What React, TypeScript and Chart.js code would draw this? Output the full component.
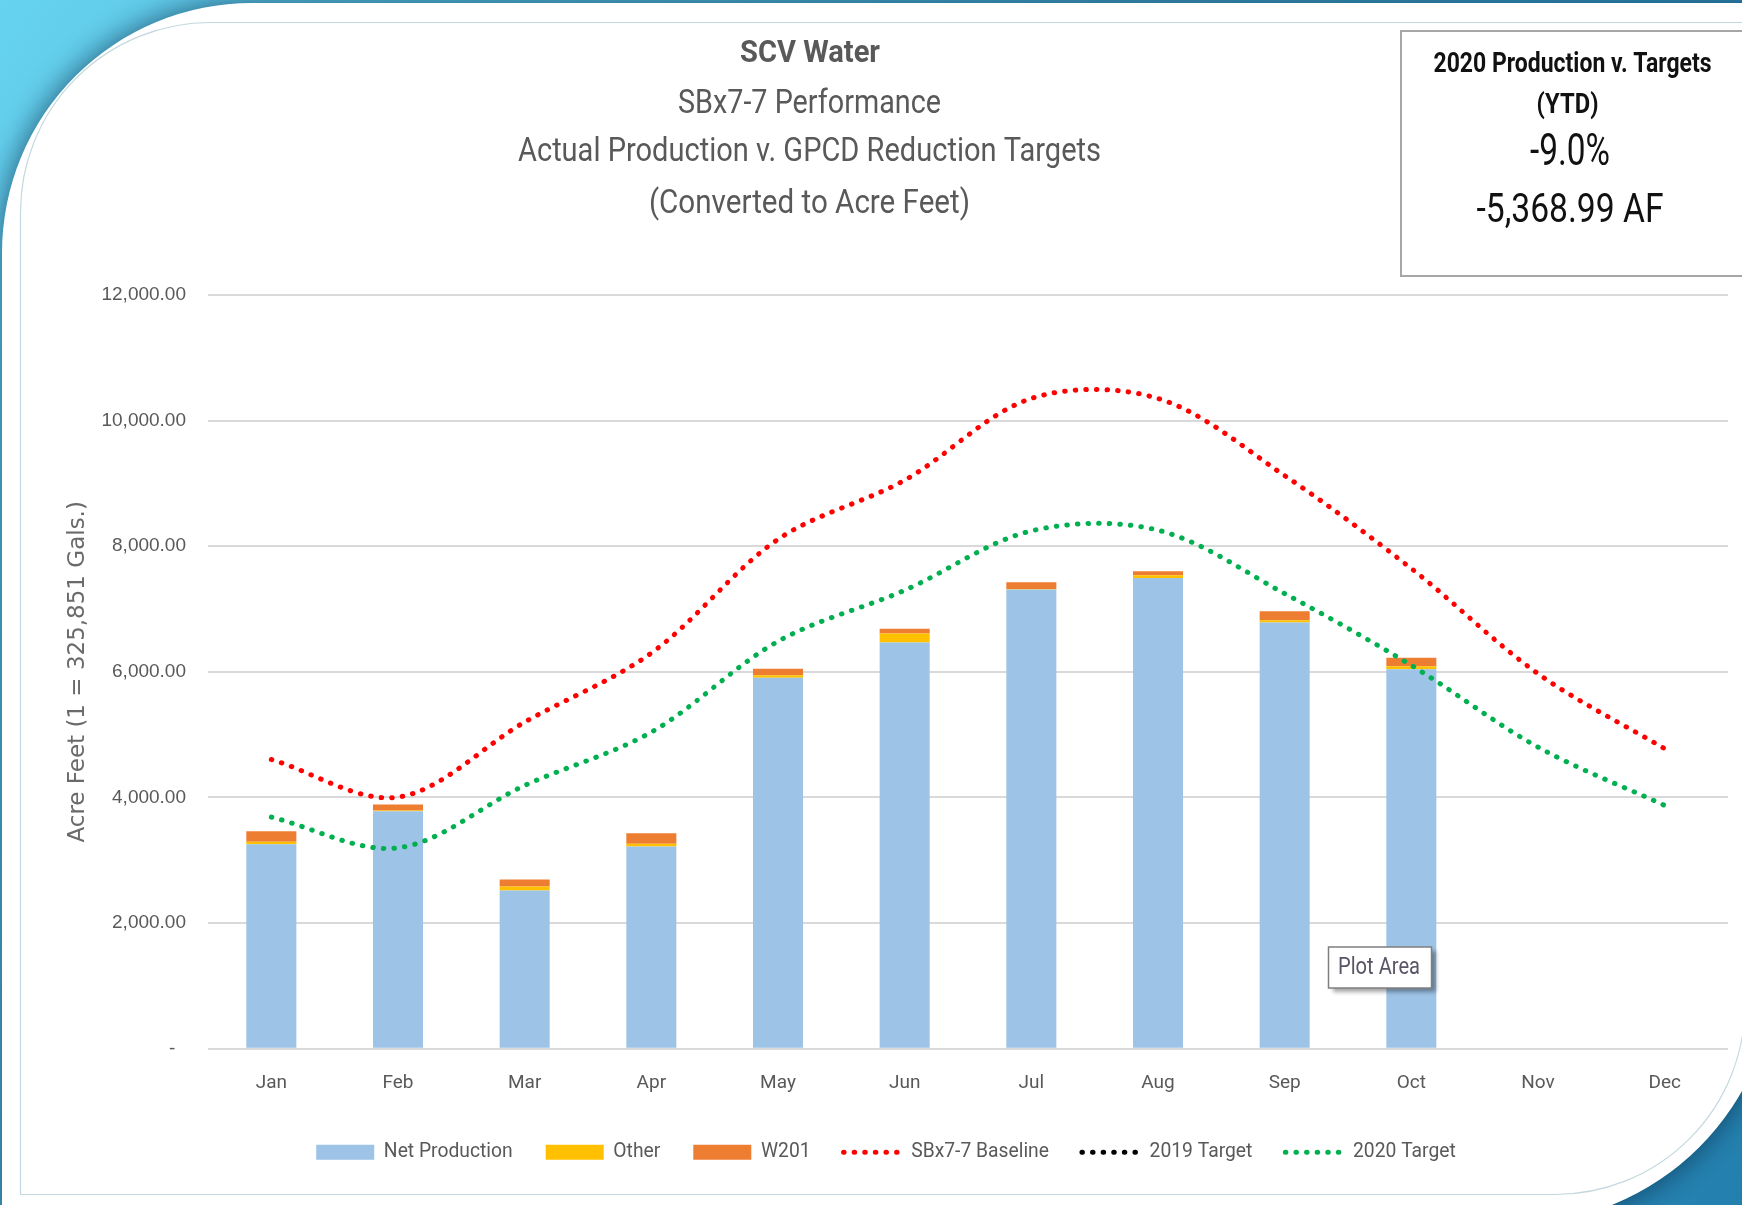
import React, { useEffect, useRef } from 'react';
import { Chart, registerables } from 'chart.js';

Chart.register(...registerables);

// ---------- data ----------
const months = ['Jan', 'Feb', 'Mar', 'Apr', 'May', 'Jun', 'Jul', 'Aug', 'Sep', 'Oct', 'Nov', 'Dec'];
const netProduction = [3256, 3782, 2518, 3219, 5908, 6468, 7310, 7495, 6784, 6040, null, null];
const otherProduction = [37, 10, 64, 43, 36, 141, 10, 43, 37, 48, null, null];
const w201Production = [171, 96, 111, 170, 105, 79, 106, 63, 143, 138, null, null];
const sbx77Baseline = [4605, 4005, 5200, 6300, 8110, 9052, 10353, 10353, 9124, 7645, 5971, 4776];
const target2019 = [null, null, null, null, null, null, null, null, null, null, null, null];
const target2020 = [3687, 3198, 4191, 5041, 6486, 7299, 8244, 8255, 7246, 6104, 4802, 3873];
const yAxisMax = 12000;
const yAxisStep = 2000;

const titleLines = ['SCV Water', 'SBx7-7 Performance', 'Actual Production v. GPCD Reduction Targets', '(Converted to Acre Feet)'];
const boxLines = ['2020 Production v. Targets', '(YTD)', '-9.0%', '-5,368.99 AF'];
const yAxisTitle = 'Acre Feet (1 = 325,851 Gals.)';
const tooltipText = 'Plot Area';

// ---------- styling ----------
const W = 1742;
const H = 1205;
const NARROW = "'Liberation Sans Narrow', 'Arial Narrow', Roboto, sans-serif";
const ARIAL = "'Liberation Sans', Arial, sans-serif";
const WIDE = "'DejaVu Sans', Verdana, sans-serif";

function fitText(ctx: CanvasRenderingContext2D, text: string, cx: number, cy: number, weight: string, size: number, family: string, targetW: number, color: string) {
  ctx.save();
  ctx.font = `${weight} ${size}px ${family}`;
  const w = ctx.measureText(text).width || 1;
  const s = targetW / w;
  ctx.translate(cx, cy);
  ctx.scale(s, 1);
  ctx.textAlign = 'center';
  ctx.textBaseline = 'middle';
  ctx.fillStyle = color;
  ctx.fillText(text, 0, 0);
  ctx.restore();
}

const decorPlugin = {
  id: 'decor',
  beforeDraw(chart: any) {
    const ctx: CanvasRenderingContext2D = chart.ctx;
    ctx.save();
    // blue background
    const g = ctx.createLinearGradient(0, 0, W, H);
    g.addColorStop(0, '#66D3F0');
    g.addColorStop(0.45, '#3F9DC4');
    g.addColorStop(0.8, '#2A88B6');
    g.addColorStop(1, '#2380AE');
    ctx.fillStyle = g;
    ctx.fillRect(0, 0, W, H);

    // white card with shadow
    ctx.save();
    ctx.beginPath();
    ctx.moveTo(2, 1300);
    ctx.lineTo(2, 253);
    ctx.arc(252, 253, 250, Math.PI, 1.5 * Math.PI);
    ctx.lineTo(1776, 3);
    ctx.lineTo(1776, 962);
    ctx.arc(1514, 962, 262, 0, 0.5 * Math.PI);
    ctx.lineTo(2, 1224);
    ctx.closePath();
    ctx.shadowColor = 'rgba(5, 40, 70, 0.7)';
    ctx.shadowBlur = 30;
    ctx.fillStyle = '#FFFFFF';
    ctx.fill();
    ctx.restore();

    // inner thin border
    ctx.beginPath();
    ctx.moveTo(20.5, 1194.5);
    ctx.lineTo(20.5, 212.5);
    ctx.arc(210.5, 212.5, 190, Math.PI, 1.5 * Math.PI);
    ctx.lineTo(1745, 22.5);
    ctx.lineTo(1745, 1004.5);
    ctx.arc(1555, 1004.5, 190, 0, 0.5 * Math.PI);
    ctx.closePath();
    ctx.strokeStyle = '#C3D8DE';
    ctx.lineWidth = 1.2;
    ctx.stroke();

    // titles
    fitText(ctx, titleLines[0], 810, 54, 'bold', 31, NARROW, 140, '#595959');
    fitText(ctx, titleLines[1], 809.5, 105, 'normal', 33, NARROW, 263, '#595959');
    fitText(ctx, titleLines[2], 809.5, 153, 'normal', 33, NARROW, 583, '#595959');
    fitText(ctx, titleLines[3], 809.5, 205, 'normal', 33, NARROW, 321, '#595959');

    // summary box
    ctx.strokeStyle = '#A6A6A6';
    ctx.lineWidth = 2;
    ctx.strokeRect(1401, 31, 400, 245);
    fitText(ctx, boxLines[0], 1572.5, 65, 'bold', 28, NARROW, 278, '#111111');
    fitText(ctx, boxLines[1], 1567.5, 106, 'bold', 28, NARROW, 62, '#111111');
    fitText(ctx, boxLines[2], 1570, 154, 'normal', 44, NARROW, 80, '#111111');
    fitText(ctx, boxLines[3], 1570, 212, 'normal', 41, NARROW, 187, '#111111');
    ctx.restore();
  },
  afterDraw(chart: any) {
    const ctx: CanvasRenderingContext2D = chart.ctx;
    ctx.save();
    ctx.shadowColor = 'rgba(0,0,0,0.35)';
    ctx.shadowBlur = 4;
    ctx.shadowOffsetX = 4;
    ctx.shadowOffsetY = 4;
    ctx.fillStyle = '#FFFFFF';
    ctx.fillRect(1328.5, 947, 103, 41);
    ctx.shadowColor = 'transparent';
    ctx.strokeStyle = '#7F7F7F';
    ctx.lineWidth = 1.5;
    ctx.strokeRect(1328.5, 947, 103, 41);
    fitText(ctx, tooltipText, 1379, 968, 'normal', 23, NARROW, 82, '#5A5466');
    ctx.restore();
  },
};

export default function App() {
  const ref = useRef<HTMLCanvasElement | null>(null);

  useEffect(() => {
    if (!ref.current) return;
    const dotted = [0.5, 10.1];
    const lineCommon = { borderWidth: 5, borderDash: dotted, borderCapStyle: 'round', pointRadius: 0, pointHoverRadius: 0, tension: 0.33, fill: false, order: 0 };
    const chart = new Chart(ref.current, {
      type: 'bar',
      data: {
        labels: months,
        datasets: [
          { type: 'bar', label: 'Net Production', data: netProduction, backgroundColor: '#9DC3E6', borderWidth: 0, stack: 'bars', order: 1 },
          { type: 'bar', label: 'Other', data: otherProduction, backgroundColor: '#FFC000', borderWidth: 0, stack: 'bars', order: 1 },
          { type: 'bar', label: 'W201', data: w201Production, backgroundColor: '#ED7D31', borderWidth: 0, stack: 'bars', order: 1 },
          { type: 'line', label: 'SBx7-7 Baseline', data: sbx77Baseline, borderColor: '#FF0000', backgroundColor: '#FF0000', stack: 'l1', ...lineCommon },
          { type: 'line', label: '2019 Target', data: target2019, borderColor: '#000000', backgroundColor: '#000000', stack: 'l2', ...lineCommon },
          { type: 'line', label: '2020 Target', data: target2020, borderColor: '#00B050', backgroundColor: '#00B050', stack: 'l3', ...lineCommon },
        ] as any,
      },
      options: {
        responsive: false,
        animation: false,
        events: [],
        layout: { padding: { top: 295, left: 44, right: 14, bottom: 33 } },
        datasets: { bar: { categoryPercentage: 1, barPercentage: 0.395 } },
        scales: {
          x: {
            stacked: true,
            grid: { display: false },
            border: { display: false },
            ticks: { color: '#595959', font: { family: NARROW, size: 19 }, padding: 15 },
            afterFit: (s: any) => { s.height = 61; },
          },
          y: {
            stacked: true,
            min: 0,
            max: yAxisMax,
            border: { display: false },
            grid: { color: '#D9D9D9', lineWidth: 2, drawTicks: false },
            ticks: {
              stepSize: yAxisStep,
              color: '#595959',
              padding: 22,
              font: { family: ARIAL, size: 19 },
              callback: (v: any) => (Number(v) === 0 ? '-  ' : Number(v).toLocaleString('en-US', { minimumFractionDigits: 2, maximumFractionDigits: 2 })),
            },
            title: { display: true, text: yAxisTitle, color: '#6A6A6A', font: { family: WIDE, size: 23 }, padding: { top: 20.2, bottom: 0 } },
            afterFit: (s: any) => { s.width = 164; },
          },
        },
        plugins: {
          title: { display: false },
          tooltip: { enabled: false },
          legend: {
            position: 'bottom',
            labels: {
              usePointStyle: true,
              pointStyleWidth: 58,
              boxHeight: 15,
              padding: 33,
              color: '#595959',
              font: { family: NARROW, size: 19.3 },
              generateLabels: (c: any) => c.data.datasets.map((ds: any, i: number) => {
                const isLine = ds.type === 'line';
                return {
                  text: ds.label,
                  datasetIndex: i,
                  hidden: false,
                  fillStyle: isLine ? 'rgba(0,0,0,0)' : ds.backgroundColor,
                  strokeStyle: isLine ? ds.borderColor : ds.backgroundColor,
                  lineWidth: isLine ? 5 : 0,
                  lineDash: isLine ? [0.5, 10.1] : [],
                  lineCap: 'round',
                  pointStyle: isLine ? 'line' : 'rect',
                  fontColor: '#595959',
                };
              }),
            },
          },
        },
      } as any,
      plugins: [decorPlugin],
    });
    return () => chart.destroy();
  }, []);

  return (
    <div style={{ position: 'fixed', left: 0, top: 0, width: W, height: H, overflow: 'hidden', background: '#fff' }}>
      <canvas ref={ref} width={W} height={H} style={{ display: 'block', width: W, height: H }} />
    </div>
  );
}
